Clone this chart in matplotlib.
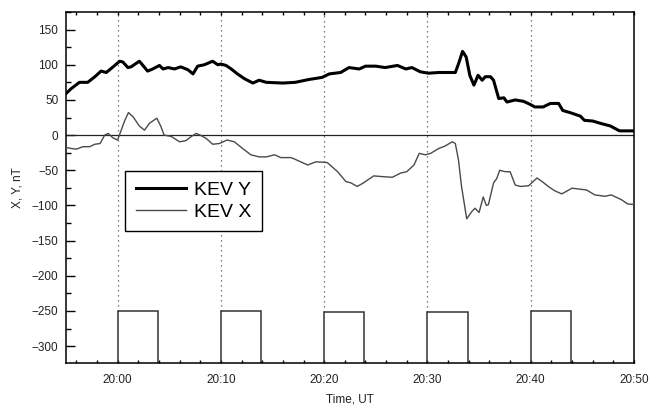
import matplotlib
matplotlib.use("Agg")
import matplotlib.pyplot as plt
from matplotlib.ticker import MultipleLocator

plt.rcParams['font.family'] = ['Liberation Sans', 'DejaVu Sans']

# minutes relative to 20:00 UT
kev_y_t = [-5, -4.5, -3.7, -2.9, -2.2, -1.6, -1.1, -0.6, 0.2, 0.5, 1.0, 1.3, 2.1, 2.4,
           2.9, 3.4, 4.05, 4.4, 4.9, 5.5, 6.1, 6.8, 7.3, 7.75, 8.4, 9.2, 9.7, 10.0,
           10.5, 11.0, 11.6, 12.3, 13.1, 13.7, 14.4, 16.0, 17.2, 18.5, 19.8, 20.5,
           21.6, 22.4, 23.4, 24.0, 25.0, 25.9, 27.1, 27.9, 28.5, 29.3, 30.1, 31.1,
           32.0, 32.7, 33.0, 33.4, 33.75, 34.1, 34.5, 34.9, 35.3, 35.6, 36.1, 36.4,
           36.9, 37.4, 37.7, 38.5, 39.3, 39.9, 40.4, 41.2, 41.9, 42.7, 43.1, 43.8,
           44.8, 45.2, 46.0, 46.8, 47.7, 48.6, 50]
kev_y = [59, 66, 75, 75, 83, 91, 89, 95, 105, 104, 96, 97, 105, 100,
         91, 94, 99, 94, 96, 94, 97, 93, 87, 98, 100, 105, 100, 101,
         99, 94, 87, 80, 74, 78, 75, 74, 75, 79, 82, 87,
         89, 96, 94, 98, 98, 96, 99, 94, 96, 90, 88, 89,
         89, 89, 101, 119, 111, 85, 71, 85, 78, 83, 83, 78,
         52, 53, 47, 50, 48, 44, 40, 40, 45, 45, 35, 32,
         27, 21, 20, 16.5, 13, 6, 6]

kev_x_t = [-5, -4.5, -4.0, -3.35, -2.7, -2.2, -1.7, -1.25, -0.9, -0.45, 0, 0.35, 0.7,
           1.05, 1.5, 2.1, 2.6, 3.1, 3.4, 3.8, 4.2, 4.5, 5.2, 6.0, 6.6, 7.1, 7.6, 8.0,
           8.6, 9.2, 9.85, 10.6, 11.3, 12.1, 12.9, 13.7, 14.4, 15.2, 15.8, 16.8, 17.2,
           18.4, 19.2, 20.3, 21.3, 22.1, 22.6, 23.2, 23.8, 24.8, 25.6, 26.6, 27.4, 28.0,
           28.7, 29.2, 29.8, 30.3, 31.1, 31.7, 32.4, 32.7, 33.0, 33.3, 33.8, 34.3, 34.6,
           35.0, 35.4, 35.7, 35.9, 36.4, 36.7, 37.0, 37.5, 38.0, 38.5, 39.0, 39.8, 40.6,
           41.1, 41.7, 42.3, 43.0, 44.0, 45.4, 46.2, 47.2, 47.8, 48.8, 49.4, 50]
kev_x = [-17.5, -19, -20, -16.5, -16.5, -13, -12, 0, 2.4, -4, -7, 7, 21,
         32, 26, 13, 7, 17, 20, 24, 12, 0, -2, -9.5, -8, -2.4, 2.4, 0,
         -5, -13, -12, -7, -9.5, -19, -28, -31, -31, -28, -32, -32, -34.5,
         -42.5, -38, -39, -52, -66, -68, -73, -68, -58, -59, -60, -54, -52,
         -42.5, -26, -28, -26, -19, -15.6, -9.5, -12, -35, -73, -119, -108.6, -104,
         -110, -88, -100, -99, -68, -62, -50, -52, -52, -71, -73, -72, -61,
         -66, -73, -79, -83.6, -75.5, -78, -85, -87, -85, -92, -98, -98.5]

pulse_start = [0, 10, 20, 30, 40]
pulse_end = [3.9, 13.9, 23.9, 33.9, 43.9]
pulse_level = [-250, -250, -252, -252, -250]
pulse_base = -324

tick_pos = [0, 10, 20, 30, 40, 50]
tick_labels = ['20:00', '20:10', '20:20', '20:30', '20:40', '20:50']

fig = plt.figure(figsize=(6.5, 4.08), dpi=100)
ax = fig.add_axes([0.1015, 0.1103, 0.8739, 0.8603])
ax.set_xlim(-5, 50)
ax.set_ylim(-324, 175)

# dotted markers
for s, lv in zip(pulse_start, pulse_level):
    ax.vlines(s, lv, 175, colors='#555555', linestyles=(0, (1, 3)), linewidth=0.9, zorder=1)

# pulses
for s, e, lv in zip(pulse_start, pulse_end, pulse_level):
    ax.plot([s, s, e, e], [pulse_base, lv, lv, pulse_base], color='#333333', lw=1.1,
            zorder=2, solid_joinstyle='miter')

ax.axhline(0, color='#222222', lw=0.9, zorder=2)

ax.plot(kev_y_t, kev_y, color='black', lw=2.2, label='KEV Y', zorder=4)
ax.plot(kev_x_t, kev_x, color='#4a4a4a', lw=1.0, label='KEV X', zorder=3)

ax.set_xticks(tick_pos)
ax.set_xticklabels(tick_labels)
ax.xaxis.set_minor_locator(MultipleLocator(2))
ax.yaxis.set_major_locator(MultipleLocator(50))
ax.yaxis.set_minor_locator(MultipleLocator(25))
ax.tick_params(axis='x', which='both', direction='in', top=True, bottom=True,
               length=2.5, width=1, labelsize=8.5, pad=8, colors='black',
               labelcolor='#222222')
ax.tick_params(axis='y', which='major', direction='in', left=True, right=False,
               length=6.5, width=1, labelsize=8.5, pad=5.5, labelcolor='#222222')
ax.tick_params(axis='y', which='minor', direction='in', left=True, right=False,
               length=3.3, width=1)
for sp in ax.spines.values():
    sp.set_linewidth(1.1)

ax.set_xlabel('Time, UT', fontsize=8.5, color='#222222', labelpad=5)
ax.set_ylabel('X, Y, nT', fontsize=8.5, color='#222222', labelpad=6)

leg = ax.legend(loc='upper left', bbox_to_anchor=(0.104, 0.547), borderaxespad=0,
                fontsize=14, frameon=True, fancybox=False, handlelength=2.6,
                handletextpad=0.4, borderpad=0.55, labelspacing=0.2)
leg.get_frame().set_edgecolor('black')
leg.get_frame().set_linewidth(1.0)
leg.get_frame().set_alpha(1)

fig.savefig('out.png', dpi=100)
